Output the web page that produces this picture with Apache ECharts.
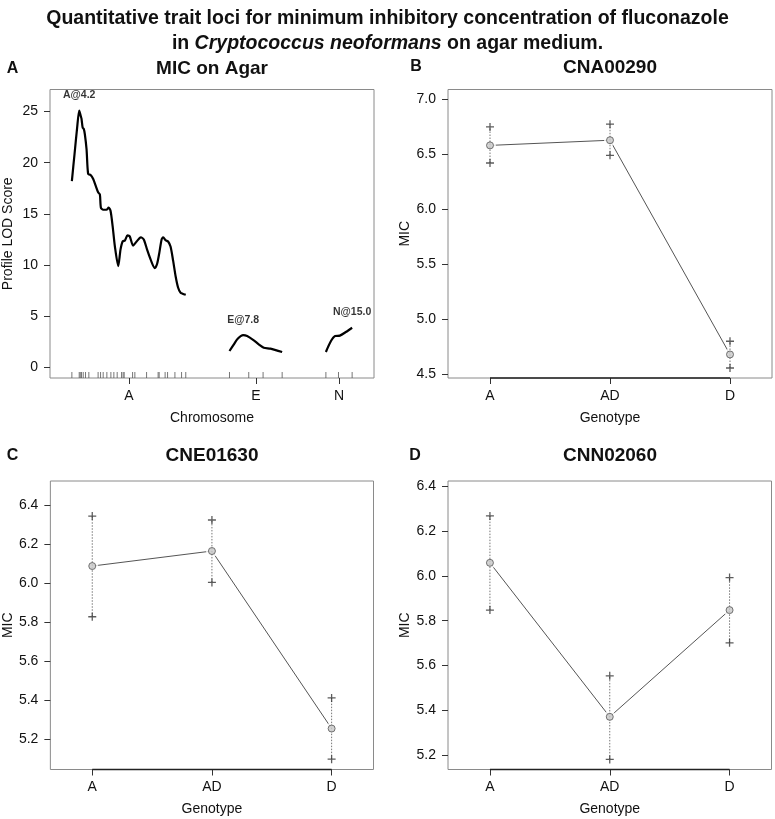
<!DOCTYPE html>
<html>
<head>
<meta charset="utf-8">
<script src="https://cdn.jsdelivr.net/npm/echarts@6/dist/echarts.min.js"></script>
<style>
html,body{margin:0;padding:0;background:#fff;}
#chart{width:775px;height:819px;}
</style>
</head>
<body>
<div id="chart"></div>
<script>
// ---------------- DATA ----------------
// Panel A: LOD profiles per chromosome (position in cM, LOD score)
const chrNames = ['A', 'E', 'N'];
const chrLengths = [65.1, 30.1, 15.0];
const chrGap = 25;
const chrA_pos = [0, 1.5, 3.0, 4.2, 5.0, 5.5, 6.2, 6.8, 7.4, 8.4, 9.3, 10.7, 12.2, 13.7, 15.0, 16.0, 16.6, 17.9, 19.8, 21.0, 22.1, 23.3, 24.6, 26.5, 27.8, 29.0, 30.3, 31.8, 33.1, 35.0, 37.0, 39.4, 41.1, 43.0, 45.1, 47.4, 48.7, 49.9, 51.3, 52.2, 53.7, 55.0, 56.4, 57.9, 59.3, 60.7, 62.1, 63.3, 65.1];
const chrA_lod = [18.2, 20.8, 23.4, 25.1, 24.6, 24.3, 23.4, 23.3, 22.8, 21.3, 18.9, 18.8, 18.4, 17.7, 17.1, 16.9, 15.6, 15.4, 15.4, 15.6, 15.3, 13.8, 11.8, 9.9, 11.5, 12.3, 12.4, 12.9, 12.8, 11.9, 12.3, 12.7, 12.5, 11.5, 10.5, 9.7, 10.1, 11.1, 12.5, 12.7, 12.4, 12.3, 11.8, 10.4, 8.9, 7.8, 7.3, 7.2, 7.1];
const chrE_pos = [0, 2.5, 4.7, 7.8, 10.1, 13.9, 16.7, 19.6, 23.4, 30.1];
const chrE_lod = [1.6, 2.25, 2.8, 3.15, 3.06, 2.64, 2.25, 1.92, 1.83, 1.5];
const chrN_pos = [0, 2.9, 5.3, 8.0, 11.4, 15.0];
const chrN_lod = [1.5, 2.57, 3.06, 3.1, 3.45, 3.87];
const markersA = [0, 4.2, 4.8, 5.5, 6.5, 7.8, 9.7, 15.0, 16.4, 17.9, 20.0, 22.3, 24.0, 25.9, 28.4, 29.3, 29.9, 34.7, 36.0, 42.7, 49.3, 49.9, 53.3, 54.7, 58.9, 62.7, 65.1];
const markersE = [0, 11.0, 19.2, 30.1];
const markersN = [0, 7.2, 15.0];
const lodTicks = [0, 5, 10, 15, 20, 25];

// Panels B-D: effect plots
const genotypes = ['A', 'AD', 'D'];
const cna00290_mean = [6.58, 6.627, 4.68];
const cna00290_upper = [6.748, 6.773, 4.80];
const cna00290_lower = [6.42, 6.49, 4.557];
const cne01630_mean = [6.089, 6.166, 5.256];
const cne01630_upper = [6.345, 6.325, 5.413];
const cne01630_lower = [5.829, 6.005, 5.099];
const cnn02060_mean = [6.058, 5.371, 5.847];
const cnn02060_upper = [6.267, 5.554, 5.992];
const cnn02060_lower = [5.847, 5.181, 5.701];
const ticksB = [4.5, 5.0, 5.5, 6.0, 6.5, 7.0];
const ticksCD = [5.2, 5.4, 5.6, 5.8, 6.0, 6.2, 6.4];

// ---------------- BUILD ----------------
const FONT = 'Liberation Sans, Arial, Helvetica, sans-serif';
const chart = echarts.init(document.getElementById('chart'), null, {renderer: 'canvas'});

const chrPos = [chrA_pos, chrE_pos, chrN_pos];
const chrLod = [chrA_lod, chrE_lod, chrN_lod];
const chrMarkers = [markersA, markersE, markersN];
const offsets = [];
let acc = 0;
chrLengths.forEach((len, i) => { offsets.push(acc); acc += len + chrGap; });
const genomeEnd = offsets[2] + chrLengths[2];
const chrMid = chrNames.map((c, i) => offsets[i] + chrLengths[i] / 2);
const lodMin = -1.04, lodMax = 27.15;

const grids = [
  {left: 50, top: 89.5, width: 324, height: 288.5},
  {left: 448, top: 89.5, width: 324, height: 288.5},
  {left: 50, top: 481, width: 323.5, height: 288.5},
  {left: 448, top: 481, width: 323.5, height: 288.5}
].map(g => Object.assign({show: true, borderColor: '#8a8a8a', borderWidth: 1, backgroundColor: 'transparent', containLabel: false}, g));

const labelStyle = {color: '#111', fontSize: 14, fontFamily: FONT};
const tickStyle = {lineStyle: {color: '#333', width: 1}, length: 6, inside: false};
const hiddenLine = {show: false, onZero: false};

function xAxisGeno(idx) {
  return {
    type: 'value', gridIndex: idx, min: 0.65, max: 3.35,
    name: 'Genotype', nameLocation: 'middle', nameGap: 33,
    nameTextStyle: {color: '#111', fontSize: 14, fontFamily: FONT},
    axisLine: hiddenLine, splitLine: {show: false},
    axisTick: Object.assign({show: true, customValues: [1, 2, 3]}, tickStyle),
    axisLabel: Object.assign({customValues: [1, 2, 3], margin: 11, formatter: v => genotypes[Math.round(v) - 1]}, labelStyle)
  };
}
function yAxisGeno(idx, min, max, ticks) {
  return {
    type: 'value', gridIndex: idx, min: min, max: max,
    name: 'MIC', nameLocation: 'middle', nameGap: 35,
    nameTextStyle: {color: '#111', fontSize: 14, fontFamily: FONT},
    axisLine: hiddenLine, splitLine: {show: false},
    axisTick: Object.assign({show: true, customValues: ticks}, tickStyle),
    axisLabel: Object.assign({customValues: ticks, margin: 12, formatter: v => v.toFixed(1)}, labelStyle)
  };
}

const xAxes = [
  {
    type: 'value', gridIndex: 0, min: -chrGap / 2, max: genomeEnd + chrGap / 2,
    name: 'Chromosome', nameLocation: 'middle', nameGap: 33,
    nameTextStyle: {color: '#111', fontSize: 14, fontFamily: FONT},
    axisLine: hiddenLine, splitLine: {show: false},
    axisTick: Object.assign({show: true, customValues: chrMid}, tickStyle),
    axisLabel: Object.assign({customValues: chrMid, margin: 11, formatter: v => {
      let best = 0; chrMid.forEach((m, i) => { if (Math.abs(m - v) < Math.abs(chrMid[best] - v)) best = i; });
      return chrNames[best];
    }}, labelStyle)
  },
  xAxisGeno(1), xAxisGeno(2), xAxisGeno(3)
];
const yAxes = [
  {
    type: 'value', gridIndex: 0, min: lodMin, max: lodMax,
    name: 'Profile LOD Score', nameLocation: 'middle', nameGap: 35,
    nameTextStyle: {color: '#111', fontSize: 14, fontFamily: FONT},
    axisLine: hiddenLine, splitLine: {show: false},
    axisTick: Object.assign({show: true, customValues: lodTicks}, tickStyle),
    axisLabel: Object.assign({customValues: lodTicks, margin: 12}, labelStyle)
  },
  yAxisGeno(1, 4.466, 7.088, ticksB),
  yAxisGeno(2, 5.046, 6.525, ticksCD),
  yAxisGeno(3, 5.136, 6.423, ticksCD)
];

const series = [];
// Panel A curves
chrNames.forEach((c, i) => {
  series.push({
    type: 'line', xAxisIndex: 0, yAxisIndex: 0, showSymbol: false, smooth: 0.25,
    lineStyle: {color: '#000', width: 2.2}, z: 3, silent: true,
    data: chrPos[i].map((p, j) => [offsets[i] + p, chrLod[i][j]])
  });
});
// Marker rug
const rug = [];
chrMarkers.forEach((ms, i) => ms.forEach(m => rug.push([offsets[i] + m, lodMin])));
series.push({
  type: 'scatter', xAxisIndex: 0, yAxisIndex: 0, clip: false, silent: true,
  symbol: 'rect', symbolSize: [1, 6], symbolOffset: [0, -3],
  itemStyle: {color: '#555'}, data: rug, z: 2
});
// Peak labels
const peaks = chrNames.map((c, i) => {
  let k = 0; chrLod[i].forEach((v, j) => { if (v > chrLod[i][k]) k = j; });
  return {value: [offsets[i] + chrPos[i][k], chrLod[i][k]], name: c + '@' + chrPos[i][k].toFixed(1)};
});
series.push({
  type: 'scatter', xAxisIndex: 0, yAxisIndex: 0, symbolSize: 0, silent: true, clip: false,
  label: {show: true, position: 'top', distance: 10, formatter: p => p.name,
    color: '#000', fontSize: 10.5, fontWeight: 'bold', fontFamily: FONT},
  data: peaks, z: 4
});

// Effect plots
const PLUS = 'path://M4.2,0H5.8V4.2H10V5.8H5.8V10H4.2V5.8H0V4.2H4.2Z';
function effect(idx, mean, lower, upper) {
  const pts = mean.map((m, i) => [i + 1, m]);
  // dark axis segment between first and last genotype tick (R axis style)
  series.push({type: 'custom', xAxisIndex: idx, yAxisIndex: idx, silent: true, z: 7, clip: false,
    data: [[1, genotypes.length]],
    renderItem: (params, api) => {
      const cs = params.coordSys;
      const x1 = api.coord([api.value(0), mean[0]])[0];
      const x2 = api.coord([api.value(1), mean[0]])[0];
      const y = cs.y + cs.height;
      return {type: 'line', shape: {x1: x1, y1: y, x2: x2, y2: y},
        style: {stroke: '#222', lineWidth: 1.6}};
    }});
  series.push({type: 'line', xAxisIndex: idx, yAxisIndex: idx, showSymbol: false, silent: true,
    lineStyle: {color: '#555', width: 1}, data: pts, z: 2});
  series.push({type: 'scatter', xAxisIndex: idx, yAxisIndex: idx, symbol: 'circle', symbolSize: 12, silent: true,
    itemStyle: {color: '#fff'}, data: pts, z: 3});
  series.push({type: 'custom', xAxisIndex: idx, yAxisIndex: idx, silent: true, z: 4,
    data: mean.map((m, i) => [i + 1, lower[i], upper[i]]),
    renderItem: (params, api) => {
      const a = api.coord([api.value(0), api.value(1)]);
      const b = api.coord([api.value(0), api.value(2)]);
      return {type: 'line', shape: {x1: a[0], y1: a[1], x2: b[0], y2: b[1]},
        style: {stroke: '#777', lineWidth: 1, lineDash: [1.5, 1.5]}};
    }});
  const plus = [];
  mean.forEach((m, i) => { plus.push([i + 1, lower[i]]); plus.push([i + 1, upper[i]]); });
  series.push({type: 'scatter', xAxisIndex: idx, yAxisIndex: idx, symbol: PLUS, symbolSize: 8, silent: true,
    itemStyle: {color: '#333'}, data: plus, z: 5});
  series.push({type: 'scatter', xAxisIndex: idx, yAxisIndex: idx, symbol: 'circle', symbolSize: 7, silent: true,
    itemStyle: {color: '#c8c8c8', borderColor: '#555', borderWidth: 1}, data: pts, z: 6});
}
effect(1, cna00290_mean, cna00290_lower, cna00290_upper);
effect(2, cne01630_mean, cne01630_lower, cne01630_upper);
effect(3, cnn02060_mean, cnn02060_lower, cnn02060_upper);

function txt(x, y, text, size) {
  return {type: 'text', x: x, y: y, silent: true,
    style: {text: text, fill: '#111', font: 'bold ' + size + 'px ' + FONT, align: 'center', verticalAlign: 'middle'}};
}

const option = {
  animation: false,
  backgroundColor: '#fff',
  title: {
    text: 'Quantitative trait loci for minimum inhibitory concentration of fluconazole\nin {i|Cryptococcus neoformans} on agar medium.',
    left: 'center', top: 1,
    textStyle: {fontFamily: 'Liberation Sans Narrow, Arial Narrow, Liberation Sans, sans-serif', fontSize: 19.5, fontWeight: 'bold', color: '#111', lineHeight: 25,
      rich: {i: {fontFamily: 'Liberation Sans Narrow, Arial Narrow, Liberation Sans, sans-serif', fontSize: 19.5, fontWeight: 'bold', fontStyle: 'italic', color: '#111', lineHeight: 25}}}
  },
  grid: grids,
  xAxis: xAxes,
  yAxis: yAxes,
  series: series,
  graphic: [
    txt(212, 69, 'MIC on Agar', 19),
    txt(610, 68, 'CNA00290', 19),
    txt(212, 456, 'CNE01630', 19),
    txt(610, 456, 'CNN02060', 19),
    txt(12.5, 69, 'A', 16),
    txt(416, 67, 'B', 16),
    txt(12.5, 456, 'C', 16),
    txt(415, 456, 'D', 16)
  ]
};
chart.setOption(option);
</script>
</body>
</html>
